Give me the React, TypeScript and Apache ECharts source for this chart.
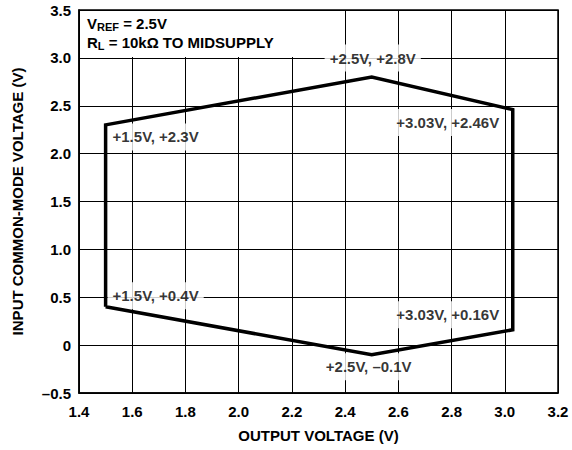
import React, { useEffect, useRef } from "react";
import * as echarts from "echarts";

const outputVoltage = [1.5, 1.5, 2.5, 3.03, 3.03, 2.5, 1.5];
const inputVoltage = [0.4, 2.3, 2.8, 2.46, 0.16, -0.1, 0.4];
const pointLabels = ["+1.5V, +0.4V", "+1.5V, +2.3V", "+2.5V, +2.8V", "+3.03V, +2.46V", "+3.03V, +0.16V", "+2.5V, \u20130.1V"];
const labelOffsets: [number, number][] = [[50, -11], [50, 12], [1, -19], [-65, 13], [-65, -15], [-3, 12]];
const xTicks = ["1.4", "1.6", "1.8", "2.0", "2.2", "2.4", "2.6", "2.8", "3.0", "3.2"];
const yTicks = ["\u20130.5", "0", "0.5", "1.0", "1.5", "2.0", "2.5", "3.0", "3.5"];

const FONT = "Liberation Sans, Arial, sans-serif";
const FS = 15;

export default function App() {
  const ref = useRef<HTMLDivElement>(null);
  useEffect(() => {
    document.body.style.margin = "0";
    if (!ref.current) return;
    const chart = echarts.init(ref.current, null, { renderer: "svg" });
    const lineData = outputVoltage.map((x, i) => [x, inputVoltage[i]]);
    const labelData = pointLabels.map((t, i) => ({
      value: [outputVoltage[i], inputVoltage[i]],
      label: {
        show: true,
        position: "inside",
        offset: labelOffsets[i],
        formatter: t,
      },
    }));
    const rich = {
      m: { fontSize: FS, fontWeight: "bold", fill: "#000", color: "#000", fontFamily: FONT },
      s: { fontSize: 11, fontWeight: "bold", fill: "#000", color: "#000", fontFamily: FONT, padding: [7, 0, 0, 0] },
    };
    chart.setOption({
      animation: false,
      grid: { left: 79, right: 14, top: 10, bottom: 57, show: true, borderColor: "#000", borderWidth: 1.5, backgroundColor: "transparent" },
      xAxis: {
        type: "value",
        min: 1.4,
        max: 3.2,
        interval: 0.2,
        name: "OUTPUT VOLTAGE (V)",
        nameLocation: "middle",
        nameGap: 35,
        nameTextStyle: { color: "#000", fontWeight: "bold", fontSize: FS, fontFamily: FONT },
        axisLine: { show: true, onZero: false, lineStyle: { color: "#000", width: 1.5 } },
        axisTick: { show: false },
        axisLabel: {
          color: "#000",
          fontWeight: "bold",
          fontSize: FS,
          fontFamily: FONT,
          margin: 11,
          formatter: (v: number) => xTicks[Math.round((v - 1.4) / 0.2)] ?? "",
        },
        splitLine: { show: true, lineStyle: { color: "#000", width: 1 } },
      },
      yAxis: {
        type: "value",
        min: -0.5,
        max: 3.5,
        interval: 0.5,
        name: "INPUT COMMON-MODE VOLTAGE (V)",
        nameLocation: "middle",
        nameGap: 54,
        nameRotate: 90,
        nameTextStyle: { color: "#000", fontWeight: "bold", fontSize: FS, fontFamily: FONT },
        axisLine: { show: true, onZero: false, lineStyle: { color: "#000", width: 1.5 } },
        axisTick: { show: false },
        axisLabel: {
          color: "#000",
          fontWeight: "bold",
          fontSize: FS,
          fontFamily: FONT,
          margin: 8,
          formatter: (v: number) => yTicks[Math.round((v + 0.5) / 0.5)] ?? "",
        },
        splitLine: { show: true, lineStyle: { color: "#000", width: 1 } },
      },
      graphic: [
        {
          type: "rect",
          shape: { x: 80, y: 11, width: 220, height: 46 },
          style: { fill: "#fff" },
          z: 10,
        },
        {
          type: "text",
          x: 87,
          y: 14,
          z: 11,
          style: { text: "{m|V}{s|REF}{m| = 2.5V}", rich },
        },
        {
          type: "text",
          x: 87,
          y: 33,
          z: 11,
          style: { text: "{m|R}{s|L}{m| = 10k\u03A9 TO MIDSUPPLY}", rich },
        },
      ],
      series: [
        {
          type: "scatter",
          data: labelData,
          symbolSize: 0,
          z: 3,
          label: {
            show: true,
            color: "#000",
            fontWeight: "bold",
            fontSize: FS,
            fontFamily: FONT,
            backgroundColor: "#fff",
            padding: [6, 5],
          },
        },
        {
          type: "line",
          data: lineData,
          symbol: "none",
          lineStyle: { color: "#000", width: 3.5, join: "miter" },
          z: 6,
        },
      ],
    });
    return () => chart.dispose();
  }, []);
  return <div ref={ref} style={{ width: 572, height: 450 }} />;
}
